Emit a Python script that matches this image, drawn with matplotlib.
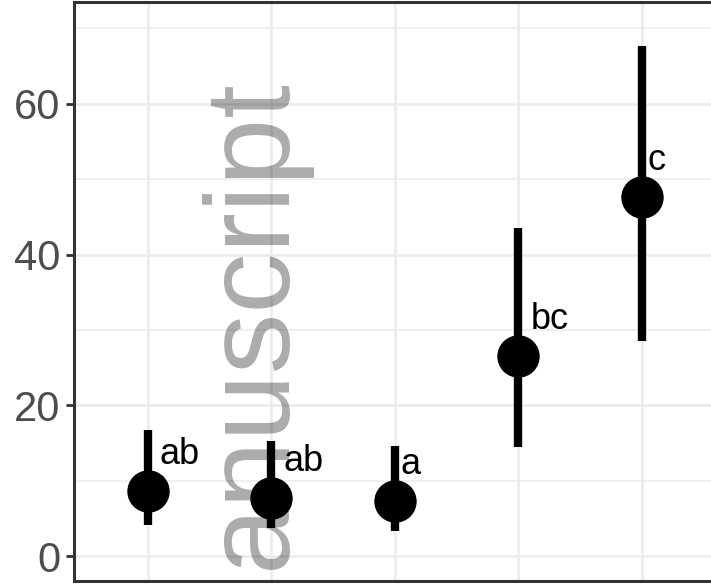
import matplotlib
matplotlib.use("Agg")
import matplotlib.pyplot as plt
from matplotlib.ticker import MultipleLocator

plt.rcParams['font.family'] = ['Liberation Sans', 'DejaVu Sans']

# group means with lower / upper interval bounds and significance letters
groups = [1, 2, 3, 4, 5]
means = [8.6, 7.7, 7.3, 26.5, 47.6]
lower = [4.1, 3.7, 3.4, 14.5, 28.6]
upper = [16.7, 15.3, 14.6, 43.5, 67.6]
letters = ["ab", "ab", "a", "bc", "c"]
yticks = [0, 20, 40, 60]

fig = plt.figure(figsize=(7.11, 5.84), dpi=100)
ax = fig.add_axes([0.104, 0.005, 0.903, 0.9916])

# interval bars then the mean points
ax.vlines(groups, lower, upper, color="black", lw=6, zorder=3)
ax.plot(groups, means, "o", color="black", ms=29.5, zorder=4)

# letters sit up and to the right of each point
for g, m, lab in zip(groups, means, letters):
    ax.annotate(lab, (g, m), xytext=(4.3 * len(lab), 19.5),
                textcoords="offset points", ha="left", va="baseline",
                fontsize=26, color="black", zorder=5)

ax.set_xlim(0.4, 5.6)
ax.set_ylim(-3.3, 73.5)
ax.set_xticks(groups)
ax.set_xticklabels([])
ax.set_yticks(yticks)
ax.yaxis.set_minor_locator(MultipleLocator(10))
ax.xaxis.set_minor_locator(plt.NullLocator())

ax.grid(which="major", color="#EBEBEB", lw=1.8, zorder=0)
ax.grid(which="minor", axis="y", color="#EBEBEB", lw=1.1, zorder=0)
ax.set_axisbelow(True)

ax.tick_params(axis="y", which="major", labelsize=30, labelcolor="#4D4D4D",
               color="#333333", length=6, width=2, pad=4)
ax.tick_params(axis="y", which="minor", length=0)
ax.tick_params(axis="x", length=0)
for s in ax.spines.values():
    s.set_color("#333333")
    s.set_linewidth(2.2)

# grey watermark running up across the panel
fig.text(0.401, 0.026, "anuscript", rotation=90, rotation_mode="anchor",
         ha="left", va="baseline", fontsize=87, color="black", alpha=0.33,
         zorder=10)

fig.savefig("out.png", dpi=100)
